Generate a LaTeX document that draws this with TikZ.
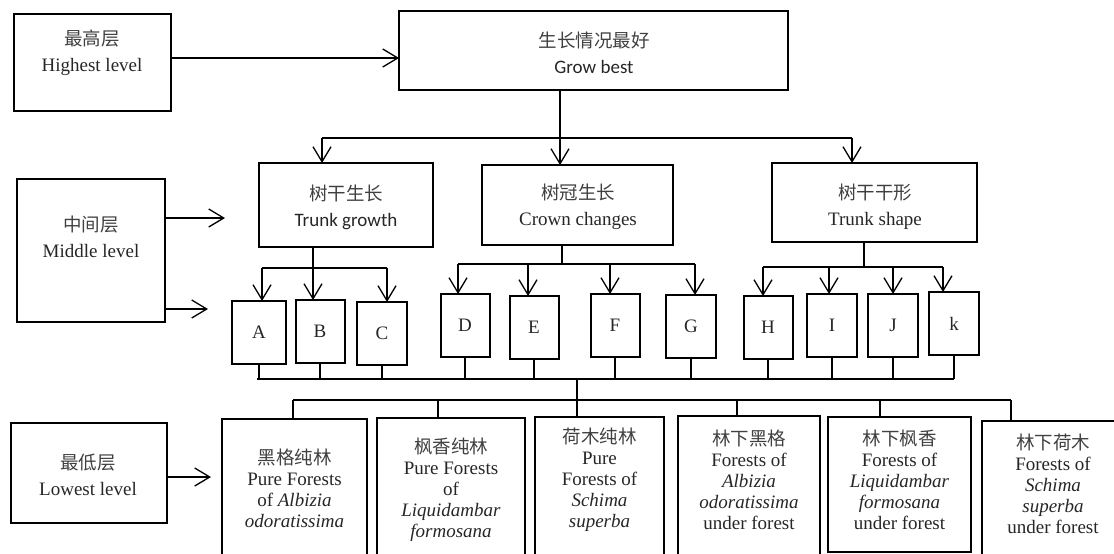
\documentclass[tikz,border=0pt]{standalone}
\usepackage{fontspec}
\setmainfont{Liberation Serif}
\newfontfamily\cjk{Noto Sans CJK SC}
\newfontfamily\calib{Carlito}
\usetikzlibrary{arrows.meta}
\tikzset{
  box/.style={draw, line width=2pt, inner sep=0pt, outer sep=0pt},
  conn/.style={line width=1.3pt},
  arr/.style={conn, -{Straight Barb[length=15pt,width=18pt]}},
  txt/.style={align=center, inner sep=0pt, text=black!85, font=\fontsize{19}{26}\selectfont},
  btxt/.style={align=center, inner sep=0pt, text=black!85, font=\fontsize{19}{21}\selectfont},
  lettxt/.style={inner sep=0pt, text=black!85, font=\fontsize{19}{22}\selectfont}
}
\newcommand{\zh}[1]{{\cjk\fontsize{18.5}{26}\selectfont\color{black!75}#1}}
\begin{document}
\begin{tikzpicture}[x=1pt,y=-1pt]
\useasboundingbox (0,0) rectangle (1114,554);
\clip (0,0) rectangle (1114,554);

% level boxes on the left
\node[box, minimum width=157pt, minimum height=97pt] (hl) at (92.5,62.5) {};
\node[txt] (hlt) at (92,53) {\zh{最高层}\\Highest level};
\node[box, minimum width=148pt, minimum height=143pt] (ml) at (91,250.5) {};
\node[txt] (mlt) at (91,237) {\zh{中间层}\\Middle level};
\node[box, minimum width=156pt, minimum height=100pt] (lw) at (89,473) {};
\node[txt] (lwt) at (88,475) {\zh{最低层}\\Lowest level};

% top
\node[box, minimum width=389pt, minimum height=79pt] (gb) at (593.5,50.5) {};
\node[txt] (gbt) at (594,53) {\zh{生长情况最好}\\{\calib Grow best}};

% middle
\node[box, minimum width=174pt, minimum height=84pt] (tg) at (346,205) {};
\node[txt] (tgt) at (346,207) {\zh{树干生长}\\{\calib Trunk growth}};
\node[box, minimum width=191pt, minimum height=80pt] (cc) at (577.5,205) {};
\node[txt] (cct) at (578,207) {\zh{树冠生长}\\Crown changes};
\node[box, minimum width=205pt, minimum height=79pt] (ts) at (874.5,202.5) {};
\node[txt] (tst) at (875,207) {\zh{树干干形}\\Trunk shape};

% letter boxes
\foreach \n/\x/\y/\w/\t in {A/259/332.5/54/A, B/320/331.5/49/B, C/382/333.5/50/C,
  D/465/325.5/49/D, E/534/327.5/49/E, F/615/325.5/49/F, G/691/326.5/50/G,
  H/768/327.5/49/H, I/832/325.5/50/I, J/893/325.5/50/J, K/954/323.5/50/k}{
  \node[box, minimum width=\w pt, minimum height=63pt] (\n) at (\x,\y) {};
  \node[lettxt] (\n t) at (\x,\y) {\t};
}

% bottom boxes
\node[box, minimum width=145pt, minimum height=181pt] (b1) at (294.5,509.5) {};
\node[box, minimum width=148pt, minimum height=182pt] (b2) at (451,509) {};
\node[box, minimum width=129pt, minimum height=183pt] (b3) at (599.5,508.5) {};
\node[box, minimum width=142pt, minimum height=184pt] (b4) at (749,508) {};
\node[box, minimum width=143pt, minimum height=135pt] (b5) at (899.5,484.5) {};
\node[box, minimum width=144pt, minimum height=179pt] (b6) at (1054,510.5) {};

\node[btxt] (b1t) at (294.5,488) {\zh{黑格纯林}\\Pure Forests\\of \textit{Albizia}\\\textit{odoratissima}};
\node[btxt] (b2t) at (451,489.5) {\zh{枫香纯林}\\Pure Forests\\of\\\textit{Liquidambar}\\\textit{formosana}};
\node[btxt] (b3t) at (599.5,479.5) {\zh{荷木纯林}\\Pure\\Forests of\\\textit{Schima}\\\textit{superba}};
\node[btxt] (b4t) at (749,479.5) {\zh{林下黑格}\\Forests of\\\textit{Albizia}\\\textit{odoratissima}\\under forest};
\node[btxt] (b5t) at (899.5,480) {\zh{林下枫香}\\Forests of\\\textit{Liquidambar}\\\textit{formosana}\\under forest};
\node[btxt] (b6t) at (1053,484) {\zh{林下荷木}\\Forests of\\\textit{Schima}\\\textit{superba}\\under forest};

% level arrows
\draw[arr] ([yshift=4.5pt]hl.east) coordinate (h1) -- (gb.west |- h1);
\coordinate (m1e) at (225,218);
\coordinate (m2e) at (208,309);
\draw[arr] (ml.east |- m1e) -- (m1e);
\draw[arr] (ml.east |- m2e) -- (m2e);
\coordinate (l1e) at (211,477);
\draw[arr] (lw.east |- l1e) -- (l1e);

% top to middle
\coordinate (tL) at (322,138);
\coordinate (tM) at (560,138);
\coordinate (tR) at (852,138);
\draw[conn] (tL) -- (tR);
\draw[arr] (tM |- gb.south) -- (tM |- cc.north);
\draw[arr] (tL) -- (tL |- tg.north);
\draw[arr] (tR) -- (tR |- ts.north);

% trunk growth children
\coordinate (aA) at (262,268);
\coordinate (aB) at (313,268);
\coordinate (aC) at (387,268);
\draw[conn] (aB |- tg.south) -- (aB);
\draw[conn] (aA) -- (aC);
\foreach \a/\b in {aA/A, aB/B, aC/C}{\draw[arr] (\a) -- (\a |- \b.north);}

% crown children
\coordinate (cj) at (562,264);
\coordinate (aD) at (458,264);
\coordinate (aE) at (528,264);
\coordinate (aF) at (610,264);
\coordinate (aG) at (695,264);
\draw[conn] (cj |- cc.south) -- (cj);
\draw[conn] (aD) -- (aG);
\foreach \a/\b in {aD/D, aE/E, aF/F, aG/G}{\draw[arr] (\a) -- (\a |- \b.north);}

% trunk shape children
\coordinate (sj) at (864,267);
\coordinate (aH) at (763,267);
\coordinate (aI) at (829,267);
\coordinate (aJ) at (893,267);
\coordinate (aK) at (943,267);
\draw[conn] (sj |- ts.south) -- (sj);
\draw[conn] (aH) -- (aK);
\foreach \a/\b in {aH/H, aI/I, aJ/J, aK/K}{\draw[arr] (\a) -- (\a |- \b.north);}

% collecting line
\coordinate (colL) at (257,379);
\coordinate (colR) at (954,379);
\draw[conn] (colL) -- (colR);
\foreach \b in {A,B,C,D,E,F,G,H,I,J,K}{\draw[conn] (\b.south) -- (\b.south |- colL);}
\coordinate (cv) at (577,379);
\draw[conn] (cv) -- (cv |- b3.north);

% distribution to bottom boxes
\coordinate (d1) at (293,400);
\coordinate (d2) at (438,400);
\coordinate (d3) at (577,400);
\coordinate (d4) at (737,400);
\coordinate (d5) at (880,400);
\coordinate (d6) at (1011,400);
\draw[conn] (d1) -- (d6);
\foreach \d/\b in {d1/b1, d2/b2, d4/b4, d5/b5, d6/b6}{\draw[conn] (\d) -- (\d |- \b.north);}
\end{tikzpicture}
\end{document}
